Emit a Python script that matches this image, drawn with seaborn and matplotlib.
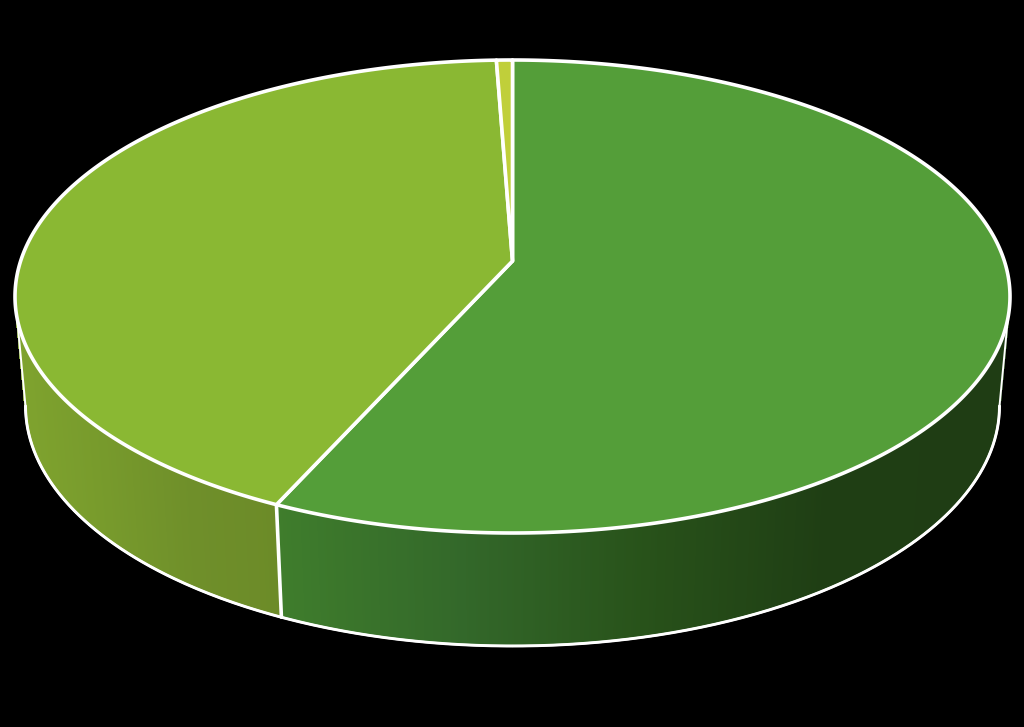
import numpy as np
import matplotlib
matplotlib.use("Agg")
import matplotlib.pyplot as plt
import seaborn as sns

sns.set_theme(style="white")

# shares of the three slices, clockwise from 12 o'clock
shares = [56.8, 42.6, 0.6]
top_colors = ["#549E39", "#8AB833", "#C0CF3A"]
# gradient on the visible side wall, left to right
side_colors = [
    ["#3F7D2C", "#33682A", "#28521A", "#1F3E14", "#1F3D14"],
    ["#7FA32E", "#779A2C", "#6F8F2A", "#6C8B28"],
    ["#8F9A2B", "#8F9A2B"],
]

# pie geometry in pixels (y goes down)
cx = 512.5
top_y, bottom_y = 60, 533
apex_y = 261
rx = 497.5
low_rx, low_cy, low_ry = 487, 406, 240

mid_y = (top_y + bottom_y) / 2
ry = (bottom_y - top_y) / 2

# perspective: the centre of the disc is not the centre of the ellipse
c = (2 * apex_y - top_y - bottom_y) / (bottom_y - top_y)
a = bottom_y * (1 + c) - apex_y
scale = rx * np.sqrt(1 - c ** 2)


def rim(theta):
    den = 1 - c * np.cos(theta)
    return (cx + scale * np.sin(theta) / den,
            (apex_y - a * np.cos(theta)) / den)


def lower(x, y):
    return (cx + low_rx * (x - cx) / rx,
            low_cy + low_ry * (y - mid_y) / ry)


fig = plt.figure(figsize=(10.24, 7.27), dpi=100, facecolor="black")
ax = fig.add_axes([0, 0, 1, 1])
ax.set_xlim(0, 1024)
ax.set_ylim(727, 0)
ax.axis("off")

edges = np.deg2rad(np.cumsum([0] + shares) * 3.6)

# side wall first, top face covers the back of it
for i in range(len(shares)):
    t = np.arange(edges[i], edges[i + 1] + 0.004, 0.004)
    t[-1] = edges[i + 1]
    xt, yt = rim(t)
    xb, yb = lower(xt, yt)
    visible = yt > mid_y - 5
    if visible.sum() < 2:
        continue
    idx = np.where(visible)[0]
    x0, x1 = xt[idx].min(), xt[idx].max()
    pal = sns.blend_palette(side_colors[i], 256)
    for j in idx[:-1]:
        col = pal[int(255 * (xt[j] - x0) / (x1 - x0))]
        # no antialiasing here, blended seams between strips show as stripes
        ax.fill([xt[j], xt[j + 1], xb[j + 1], xb[j]],
                [yt[j], yt[j + 1], yb[j + 1], yb[j]],
                color=col, lw=0.6, antialiased=False, zorder=1)

# outline of the wall
t = np.linspace(np.pi / 2, 3 * np.pi / 2, 400)
xb, yb = lower(cx + rx * np.sin(t), mid_y - ry * np.cos(t))
ax.plot(xb, yb, color="white", lw=2.1, zorder=2, solid_capstyle="round")
for side in [1, -1]:
    ax.plot([cx + side * rx, cx + side * low_rx], [mid_y, low_cy],
            color="white", lw=1.4, zorder=2)
    ang = np.linspace(0, np.pi / 2, 60)
    ax.plot(cx + side * low_rx * np.cos(ang), low_cy + low_ry * np.sin(ang),
            color="white", lw=1.6, zorder=2)

# divider lines on the wall
for e in edges[1:-1]:
    xe, ye = rim(e)
    if ye > mid_y:
        xl, yl = lower(xe, ye)
        ax.plot([xe, xl], [ye, yl], color="white", lw=2.6, zorder=2)

# top face
for i in range(len(shares)):
    t = np.linspace(edges[i], edges[i + 1], 400)
    xt, yt = rim(t)
    ax.fill(np.r_[cx, xt], np.r_[apex_y, yt], facecolor=top_colors[i],
            edgecolor="white", lw=2.6, joinstyle="round", zorder=3)

fig.savefig("out.png", dpi=100, facecolor="black")
